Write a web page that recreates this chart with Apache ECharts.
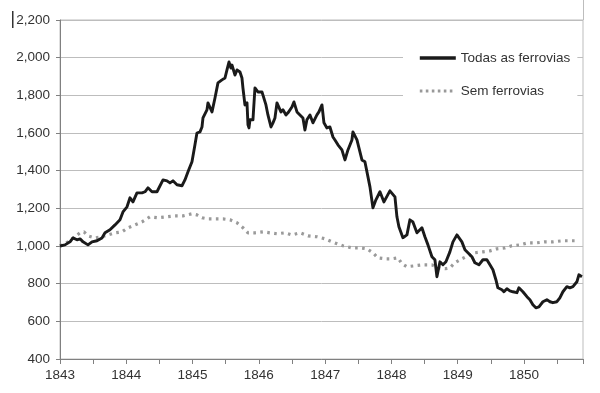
<!DOCTYPE html>
<html>
<head>
<meta charset="utf-8">
<script src="https://cdn.jsdelivr.net/npm/echarts@6/dist/echarts.min.js"></script>
<style>html,body{margin:0;padding:0;background:#fff;}#c{width:600px;height:393px;}</style>
</head>
<body>
<div id="c"></div>
<script>
// ---- Data ----
var seriesNames = ['Todas as ferrovias', 'Sem ferrovias'];

var todasYears = [1843.000,1843.075,1843.151,1843.196,1843.256,1843.302,1843.347,1843.422,1843.483,1843.558,1843.633,1843.679,1843.754,1843.830,1843.905,1843.950,1844.011,1844.056,1844.101,1844.161,1844.237,1844.282,1844.327,1844.388,1844.463,1844.554,1844.614,1844.659,1844.704,1844.765,1844.840,1844.885,1844.931,1844.991,1845.036,1845.066,1845.112,1845.142,1845.157,1845.217,1845.232,1845.293,1845.338,1845.383,1845.443,1845.489,1845.519,1845.549,1845.579,1845.594,1845.640,1845.670,1845.715,1845.745,1845.760,1845.790,1845.821,1845.836,1845.851,1845.866,1845.911,1845.941,1845.986,1846.047,1846.062,1846.107,1846.137,1846.183,1846.213,1846.243,1846.273,1846.303,1846.333,1846.364,1846.409,1846.439,1846.499,1846.529,1846.575,1846.620,1846.665,1846.695,1846.725,1846.771,1846.816,1846.876,1846.906,1846.952,1846.982,1847.027,1847.072,1847.118,1847.148,1847.193,1847.253,1847.299,1847.344,1847.404,1847.419,1847.480,1847.555,1847.600,1847.646,1847.676,1847.721,1847.766,1847.827,1847.887,1847.977,1848.053,1848.083,1848.113,1848.173,1848.234,1848.279,1848.324,1848.385,1848.460,1848.505,1848.551,1848.611,1848.656,1848.686,1848.732,1848.777,1848.822,1848.882,1848.928,1848.988,1849.018,1849.063,1849.109,1849.154,1849.214,1849.259,1849.320,1849.380,1849.440,1849.486,1849.531,1849.576,1849.606,1849.667,1849.697,1849.742,1849.787,1849.833,1849.893,1849.923,1849.983,1850.044,1850.089,1850.134,1850.179,1850.225,1850.285,1850.345,1850.391,1850.436,1850.496,1850.541,1850.587,1850.647,1850.692,1850.738,1850.798,1850.828,1850.874];
var todasValues = [1000,1006,1022,1043,1033,1038,1022,1006,1022,1028,1043,1070,1086,1112,1139,1181,1208,1256,1234,1282,1282,1288,1309,1288,1288,1351,1346,1335,1346,1325,1320,1351,1394,1447,1537,1600,1606,1632,1680,1723,1760,1712,1786,1866,1882,1892,1935,1977,1945,1961,1908,1935,1924,1892,1839,1749,1760,1643,1627,1670,1670,1839,1818,1818,1813,1749,1696,1632,1654,1680,1760,1765,1712,1723,1696,1707,1738,1765,1712,1696,1680,1616,1670,1696,1654,1696,1712,1749,1654,1627,1632,1579,1563,1537,1510,1457,1510,1563,1606,1563,1457,1447,1367,1314,1203,1245,1288,1234,1293,1261,1155,1102,1044,1059,1139,1128,1070,1097,1049,1006,943,927,837,916,900,916,969,1022,1059,1059,1022,980,964,943,911,900,927,927,900,874,821,778,768,757,773,762,757,752,778,757,731,715,688,672,677,704,715,704,699,704,725,757,784,778,784,810,847,837];

var semYears = [1843.000,1843.121,1843.226,1843.302,1843.362,1843.422,1843.528,1843.633,1843.724,1843.830,1843.935,1844.026,1844.131,1844.237,1844.357,1844.478,1844.614,1844.735,1844.855,1844.991,1845.066,1845.142,1845.232,1845.338,1845.459,1845.564,1845.670,1845.760,1845.836,1845.941,1846.062,1846.167,1846.273,1846.394,1846.499,1846.620,1846.741,1846.876,1846.997,1847.103,1847.268,1847.404,1847.525,1847.630,1847.721,1847.796,1847.902,1848.008,1848.098,1848.158,1848.234,1848.354,1848.475,1848.611,1848.701,1848.807,1848.882,1848.958,1849.063,1849.154,1849.259,1849.380,1849.486,1849.591,1849.712,1849.817,1849.938,1850.059,1850.195,1850.315,1850.436,1850.587,1850.722,1850.813];
var semValues = [1000,1022,1049,1070,1075,1054,1043,1049,1059,1070,1075,1097,1112,1128,1155,1150,1155,1160,1160,1171,1165,1150,1144,1144,1144,1139,1123,1097,1070,1070,1075,1070,1065,1070,1059,1070,1054,1049,1038,1022,1001,990,990,985,964,937,932,932,937,906,890,895,900,900,884,879,884,911,932,948,964,969,974,985,990,1001,1006,1017,1017,1022,1022,1028,1028,1028];

var yMin = 400, yMax = 2200, yStep = 200;
var xMin = 1843, xMax = 1850.89, xStep = 1;

function pairs(xs, ys) { return xs.map(function (x, i) { return [x, ys[i]]; }); }

var chart = echarts.init(document.getElementById('c'), null, { renderer: 'canvas' });
var fontFam = '"Liberation Sans", Arial, sans-serif';
chart.setOption({
  animation: false,
  backgroundColor: '#fff',
  grid: { left: 60, right: 17, top: 20, bottom: 34, show: true, borderColor: '#bdbdbd', borderWidth: 1 },
  legend: {
    orient: 'vertical', left: 403, top: 43,
    padding: [8, 7, 8, 15],
    backgroundColor: '#fff',
    itemWidth: 36, itemHeight: 14, itemGap: 19,
    itemStyle: { opacity: 0, borderWidth: 0 },
    textStyle: { fontFamily: fontFam, fontSize: 13.5, color: '#333' },
    data: [
      { name: seriesNames[0], lineStyle: { width: 3.6, color: '#1a1a1a' } },
      { name: seriesNames[1], lineStyle: { width: 3.2, color: '#999', type: [2.6, 3.4] } }
    ]
  },
  xAxis: {
    type: 'value', min: xMin, max: xMax, interval: xStep,
    axisLine: { show: true, lineStyle: { color: '#808080', width: 1 } },
    axisTick: { show: true, length: 5, lineStyle: { color: '#808080' } },
    minorTick: { show: true, splitNumber: 2, length: 5, lineStyle: { color: '#808080' } },
    splitLine: { show: false },
    axisLabel: {
      margin: 9, fontFamily: fontFam, fontSize: 13.5, color: '#333', showMaxLabel: false,
      formatter: function (v) { return Math.abs(v - Math.round(v)) < 1e-6 ? String(Math.round(v)) : ''; }
    }
  },
  yAxis: {
    type: 'value', min: yMin, max: yMax, interval: yStep,
    axisLine: { show: true, lineStyle: { color: '#808080', width: 1 } },
    axisTick: { show: true, length: 4, lineStyle: { color: '#808080' } },
    splitLine: { show: true, lineStyle: { color: '#bdbdbd', width: 1 } },
    axisLabel: {
      margin: 10, fontFamily: fontFam, fontSize: 13.5, color: '#333',
      formatter: function (v) { return v.toString().replace(/\B(?=(\d{3})+(?!\d))/g, ','); }
    }
  },
  graphic: [
    { type: 'rect', left: 12, top: 11, shape: { width: 1.5, height: 17 }, style: { fill: '#333' }, silent: true },
    { type: 'line', shape: { x1: 583.5, y1: 0, x2: 583.5, y2: 20 }, style: { stroke: '#bdbdbd', lineWidth: 1 }, silent: true }
  ],
  series: [
    {
      name: seriesNames[0], type: 'line', data: pairs(todasYears, todasValues),
      symbol: 'none', z: 3,
      lineStyle: { color: '#1a1a1a', width: 2.9, join: 'round' },
      itemStyle: { color: '#1a1a1a' }
    },
    {
      name: seriesNames[1], type: 'line', data: pairs(semYears, semValues),
      symbol: 'none', z: 2,
      lineStyle: { color: '#9a9a9a', width: 3.2, type: [2.6, 4.4] },
      itemStyle: { color: '#9a9a9a' }
    }
  ]
});
</script>
</body>
</html>
